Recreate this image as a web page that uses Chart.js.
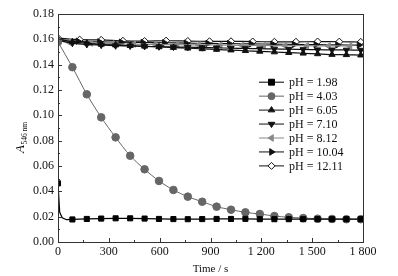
<!DOCTYPE html>
<html lang="en">
<head>
    <meta charset="UTF-8">
    <title>A546 vs time</title>
    <style>
        body {
            margin: 0;
            padding: 0;
            background: #fff;
        }

        #chart-box {
            width: 398px;
            height: 276px;
        }
    </style>
</head>
<body>
<div id="chart-box">
    <canvas id="abs-chart" width="398" height="276"></canvas>
</div>

<script src="https://cdn.jsdelivr.net/npm/chart.js"></script>
<script>
    // marker times (s)
    var t85 = [0, 85, 170, 255, 340, 426, 511, 596, 681, 766, 851, 936, 1021, 1106, 1191, 1277, 1362, 1447, 1532, 1617, 1702, 1787];
    var t128 = [0, 128, 255, 383, 511, 638, 766, 894, 1021, 1149, 1277, 1404, 1532, 1660, 1787];
    var tRight = [0, 118, 245, 373, 501, 628, 756, 884, 1011, 1139, 1267, 1394, 1522, 1650, 1777];
    var tLeft = [0, 64, 192, 319, 447, 574, 702, 830, 957, 1085, 1213, 1340, 1468, 1596, 1723];
    // pH 1.98 has a fast drop at the start, extra points without markers
    var t198 = [0, 10, 25, 50, 85, 170, 255, 340, 426, 511, 596, 681, 766, 851, 936, 1021, 1106, 1191, 1277, 1362, 1447, 1532, 1617, 1702, 1787];
    var mark198 = [1, 0, 0, 0, 1, 1, 1, 1, 1, 1, 1, 1, 1, 1, 1, 1, 1, 1, 1, 1, 1, 1, 1, 1, 1];

    var ph198 = [0.0463, 0.0235, 0.0192, 0.0176, 0.0178, 0.0182, 0.0185, 0.0187, 0.0187, 0.0185, 0.0182, 0.0181, 0.0180, 0.0181, 0.0182, 0.0182, 0.0183, 0.0180, 0.0180, 0.0180, 0.0180, 0.0180, 0.0180, 0.0180, 0.0180];
    var ph403 = [0.158, 0.138, 0.1166, 0.0984, 0.0826, 0.0681, 0.0574, 0.0482, 0.0411, 0.0358, 0.0318, 0.0279, 0.0255, 0.0234, 0.0221, 0.0205, 0.0195, 0.0189, 0.0184, 0.0182, 0.0180, 0.0180];
    var ph605 = [0.160, 0.158, 0.157, 0.156, 0.1555, 0.155, 0.1545, 0.154, 0.1535, 0.153, 0.1525, 0.152, 0.1515, 0.151, 0.1505, 0.150, 0.1495, 0.149, 0.1485, 0.148, 0.1478, 0.1475];
    var ph710 = [0.159, 0.157, 0.156, 0.1555, 0.155, 0.1548, 0.1545, 0.1542, 0.154, 0.1538, 0.1535, 0.1533, 0.153, 0.1528, 0.1526, 0.1524, 0.1522, 0.152, 0.1518, 0.1517, 0.1516, 0.1515];
    var ph812 = [0.159, 0.1578, 0.157, 0.1565, 0.1562, 0.156, 0.1558, 0.1556, 0.1555, 0.1553, 0.1552, 0.155, 0.155, 0.1548, 0.1548];
    var ph1004 = [0.160, 0.1585, 0.158, 0.1578, 0.1575, 0.1573, 0.157, 0.1568, 0.1566, 0.1564, 0.1562, 0.156, 0.1558, 0.1556, 0.1555];
    var ph1211 = [0.1610, 0.1597, 0.1595, 0.1588, 0.1586, 0.1589, 0.1586, 0.1584, 0.1584, 0.1582, 0.1580, 0.1580, 0.1582, 0.1581, 0.1579];

    var xTicks = [0, 300, 600, 900, 1200, 1500, 1800];
    var yTicks = [0, 0.02, 0.04, 0.06, 0.08, 0.10, 0.12, 0.14, 0.16, 0.18];

    var serif = '"Liberation Serif", "DejaVu Serif", serif';

    function pts(ts, vs) {
        return ts.map(function (t, i) { return {x: t, y: vs[i]}; });
    }

    function series(label, ts, vs, style, rot, color, fill) {
        return {
            label: label,
            data: pts(ts, vs),
            borderColor: color,
            backgroundColor: fill,
            borderWidth: 1.2,
            pointStyle: style,
            rotation: rot,
            pointRadius: 3.6,
            pointBorderWidth: 1,
            pointBorderColor: color,
            pointBackgroundColor: fill,
            tension: 0.3,
            fill: false
        };
    }

    var datasets = [
        series('pH = 1.98', t198, ph198, 'rect', 0, '#000', '#000'),
        series('pH = 4.03', t85, ph403, 'circle', 0, '#666', '#666'),
        series('pH = 6.05', t85, ph605, 'triangle', 0, '#111', '#111'),
        series('pH = 7.10', t85, ph710, 'triangle', 180, '#111', '#111'),
        series('pH = 8.12', tLeft, ph812, 'triangle', 270, '#888', '#888'),
        series('pH = 10.04', tRight, ph1004, 'triangle', 90, '#111', '#111'),
        series('pH = 12.11', t128, ph1211, 'rectRot', 0, '#111', '#fff')
    ];
    datasets[0].pointRadius = mark198.map(function (m) { return m ? 3.6 : 0; });
    datasets[0].tension = 0;
    datasets[1].pointRadius = 3.8;
    datasets[1].borderWidth = 1;

    function drawMarker(ctx, style, rot, x, y, r) {
        ctx.save();
        ctx.translate(x, y);
        ctx.rotate(rot * Math.PI / 180);
        ctx.beginPath();
        if (style === 'circle') {
            ctx.arc(0, 0, r, 0, Math.PI * 2);
        } else if (style === 'rect') {
            var s = r * Math.SQRT1_2 * 1.4;
            ctx.rect(-s, -s, 2 * s, 2 * s);
        } else if (style === 'rectRot') {
            ctx.moveTo(0, -r); ctx.lineTo(r, 0); ctx.lineTo(0, r); ctx.lineTo(-r, 0); ctx.closePath();
        } else {
            var h = r * 1.5;
            ctx.moveTo(0, -r); ctx.lineTo(r * 0.95, h - r); ctx.lineTo(-r * 0.95, h - r); ctx.closePath();
        }
        ctx.fill();
        ctx.stroke();
        ctx.restore();
    }

    var framePlugin = {
        id: 'frame',
        afterDraw: function (chart) {
            var ctx = chart.ctx;
            var a = chart.chartArea;
            var xs = chart.scales.x, ys = chart.scales.y;
            ctx.save();
            // box
            ctx.strokeStyle = '#333';
            ctx.lineWidth = 1;
            ctx.strokeRect(a.left + 0.5, a.top + 0.5, a.right - a.left, a.bottom - a.top);
            // inward ticks
            ctx.beginPath();
            for (var t = 0; t <= 1800; t += 150) {
                var px = Math.round(xs.getPixelForValue(t)) + 0.5;
                var len = (t % 300 === 0) ? 4 : 2;
                ctx.moveTo(px, a.bottom);
                ctx.lineTo(px, a.bottom - len);
            }
            for (var k = 0; k <= 18; k++) {
                var py = Math.round(ys.getPixelForValue(k / 100)) + 0.5;
                var l2 = (k % 2 === 0) ? 4 : 2;
                ctx.moveTo(a.left, py);
                ctx.lineTo(a.left + l2, py);
            }
            ctx.stroke();

            // y title: A with subscript 546 nm
            ctx.save();
            ctx.translate(24, 153);
            ctx.rotate(-Math.PI / 2);
            ctx.fillStyle = '#111';
            ctx.textBaseline = 'alphabetic';
            ctx.font = 'italic 13px ' + serif;
            ctx.fillText('A', 0, 0);
            var w = ctx.measureText('A').width;
            ctx.font = '7.5px ' + serif;
            ctx.fillText('546 nm', w + 0.5, 2.5);
            ctx.restore();

            // legend
            ctx.font = '12px ' + serif;
            ctx.textBaseline = 'middle';
            var ly = 81.7;
            chart.data.datasets.forEach(function (ds) {
                ctx.strokeStyle = ds.borderColor;
                ctx.lineWidth = 1;
                ctx.beginPath();
                ctx.moveTo(259, ly + 0.5);
                ctx.lineTo(284, ly + 0.5);
                ctx.stroke();
                ctx.fillStyle = ds.pointBackgroundColor;
                ctx.strokeStyle = ds.pointBorderColor;
                drawMarker(ctx, ds.pointStyle, ds.rotation, 271.5, ly + 0.5, ds.pointStyle === 'rect' ? 3 : 3.5);
                ctx.fillStyle = '#111';
                ctx.fillText(ds.label, 289, ly + 1);
                ly += 13.95;
            });
            ctx.restore();
        }
    };

    var ctx = document.getElementById('abs-chart').getContext('2d');
    var chart = new Chart(ctx, {
        type: 'line',
        data: {datasets: datasets},
        options: {
            responsive: false,
            animation: false,
            layout: {padding: {top: 14, right: 35, left: 0, bottom: 0}},
            plugins: {
                legend: {display: false},
                tooltip: {enabled: false}
            },
            scales: {
                x: {
                    type: 'linear',
                    min: 0,
                    max: 1800,
                    afterFit: function (s) { s.height = 34; },
                    afterBuildTicks: function (s) {
                        s.ticks = xTicks.map(function (v) { return {value: v}; });
                    },
                    grid: {display: false, drawTicks: false},
                    border: {display: false},
                    ticks: {
                        padding: 3,
                        color: '#111',
                        font: {family: serif, size: 12},
                        maxRotation: 0,
                        callback: function (v) {
                            return v >= 1000 ? Math.floor(v / 1000) + ' ' + String(v % 1000).padStart(3, '0') : String(v);
                        }
                    },
                    title: {
                        display: true,
                        text: 'Time / s',
                        color: '#111',
                        font: {family: serif, size: 11},
                        padding: {top: 1, bottom: 0}
                    }
                },
                y: {
                    min: 0,
                    max: 0.18,
                    afterFit: function (s) { s.width = 58; },
                    afterBuildTicks: function (s) {
                        s.ticks = yTicks.map(function (v) { return {value: v}; });
                    },
                    grid: {display: false, drawTicks: false},
                    border: {display: false},
                    ticks: {
                        padding: 4,
                        color: '#111',
                        font: {family: serif, size: 12},
                        callback: function (v) { return v.toFixed(2); }
                    }
                }
            }
        },
        plugins: [framePlugin]
    });
</script>
</body>
</html>
